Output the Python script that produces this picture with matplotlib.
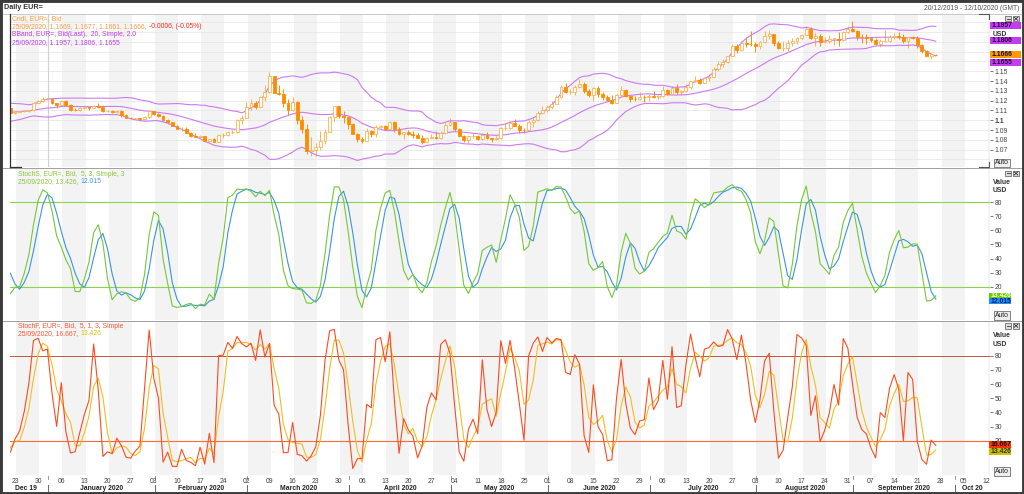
import numpy as np
import pandas as pd
import matplotlib
matplotlib.use("Agg")
import matplotlib.pyplot as plt
from matplotlib.patches import Rectangle
from matplotlib.lines import Line2D

plt.rcParams['font.family'] = ['Liberation Sans', 'DejaVu Sans']

# EUR= daily bid, 22/11/2019 - 25/09/2020 (first 20 rows only warm up the indicators)
closes = [
    1.1023,
    1.1013, 1.1017, 1.1009, 1.1010, 1.1018,  # Nov 25
    1.1078, 1.1081, 1.1078, 1.1105, 1.1059,  # Dec 2
    1.1065, 1.1091, 1.1130, 1.1130, 1.1120,  # Dec 9
    1.1145, 1.1150, 1.1112, 1.1122, 1.1079,  # Dec 16
    1.1089, 1.1090, 1.1090, 1.1100, 1.1177,  # Dec 23
    1.1200, 1.1213, 1.1215, 1.1172, 1.1160,  # Dec 30
    1.1195, 1.1152, 1.1107, 1.1106, 1.1120,  # Jan 6
    1.1134, 1.1127, 1.1150, 1.1136, 1.1091,  # Jan 13
    1.1094, 1.1083, 1.1094, 1.1054, 1.1026,  # Jan 20
    1.1019, 1.1021, 1.1010, 1.1031, 1.1094,  # Jan 27
    1.1060, 1.1045, 1.1000, 1.0980, 1.0944,  # Feb 3
    1.0910, 1.0914, 1.0874, 1.0840, 1.0830,  # Feb 10
    1.0837, 1.0790, 1.0805, 1.0782, 1.0846,  # Feb 17
    1.0852, 1.0880, 1.0882, 1.0999, 1.1026,  # Feb 24
    1.1138, 1.1174, 1.1135, 1.1238, 1.1285,  # Mar 2
    1.1450, 1.1283, 1.1266, 1.1181, 1.1106,  # Mar 9
    1.1185, 1.1001, 1.0915, 1.0688, 1.0692,  # Mar 16
    1.0724, 1.0790, 1.0883, 1.1030, 1.1141,  # Mar 23
    1.1044, 1.1032, 1.0963, 1.0857, 1.0806,  # Mar 30
    1.0793, 1.0891, 1.0856, 1.0936, 1.0939,  # Apr 6
    1.0913, 1.0985, 1.0907, 1.0862, 1.0876,  # Apr 13
    1.0862, 1.0854, 1.0822, 1.0781, 1.0821,  # Apr 20
    1.0828, 1.0822, 1.0874, 1.0955, 1.0981,  # Apr 27
    1.0906, 1.0838, 1.0795, 1.0837, 1.0842,  # May 4
    1.0806, 1.0850, 1.0816, 1.0808, 1.0819,  # May 11
    1.0920, 1.0925, 1.0974, 1.0946, 1.0901,  # May 18
    1.0898, 1.0980, 1.1006, 1.1078, 1.1100,  # May 25
    1.1136, 1.1169, 1.1236, 1.1336, 1.1290,  # Jun 1
    1.1293, 1.1341, 1.1370, 1.1298, 1.1256,  # Jun 8
    1.1330, 1.1263, 1.1242, 1.1204, 1.1180,  # Jun 15
    1.1259, 1.1308, 1.1252, 1.1220, 1.1218,  # Jun 22
    1.1242, 1.1234, 1.1252, 1.1238, 1.1245,  # Jun 29
    1.1310, 1.1272, 1.1334, 1.1286, 1.1299,  # Jul 6
    1.1343, 1.1398, 1.1411, 1.1384, 1.1428,  # Jul 13
    1.1446, 1.1528, 1.1570, 1.1595, 1.1656,  # Jul 20
    1.1753, 1.1717, 1.1791, 1.1779, 1.1778,  # Jul 27
    1.1762, 1.1800, 1.1863, 1.1876, 1.1786,  # Aug 3
    1.1737, 1.1738, 1.1785, 1.1812, 1.1842,  # Aug 10
    1.1869, 1.1934, 1.1838, 1.1864, 1.1795,  # Aug 17
    1.1812, 1.1832, 1.1834, 1.1820, 1.1903,  # Aug 24
    1.1936, 1.1912, 1.1853, 1.1851, 1.1838,  # Aug 31
    1.1815, 1.1778, 1.1805, 1.1812, 1.1846,  # Sep 7
    1.1862, 1.1845, 1.1813, 1.1848, 1.1840,  # Sep 14
    1.1768, 1.1703, 1.1660, 1.1675, 1.1666,  # Sep 21
]
highs = [
    1.1090,
    1.1033, 1.1025, 1.1025, 1.1020, 1.1035,
    1.1090, 1.1093, 1.1095, 1.1115, 1.1111,
    1.1090, 1.1096, 1.1145, 1.1140, 1.1200,
    1.1160, 1.1175, 1.1155, 1.1125, 1.1122,
    1.1095, 1.1094, 1.1093, 1.1107, 1.1188,
    1.1210, 1.1239, 1.1225, 1.1225, 1.1175,
    1.1206, 1.1204, 1.1166, 1.1125, 1.1131,
    1.1141, 1.1146, 1.1158, 1.1173, 1.1145,
    1.1100, 1.1103, 1.1103, 1.1103, 1.1060,
    1.1036, 1.1027, 1.1026, 1.1039, 1.1096,
    1.1098, 1.1070, 1.1050, 1.1012, 1.0980,
    1.0955, 1.0930, 1.0928, 1.0885, 1.0865,
    1.0850, 1.0841, 1.0812, 1.0815, 1.0863,
    1.0870, 1.0892, 1.0900, 1.1014, 1.1053,
    1.1186, 1.1214, 1.1200, 1.1243, 1.1355,
    1.1495, 1.1450, 1.1355, 1.1317, 1.1214,
    1.1240, 1.1195, 1.1043, 1.0958, 1.0830,
    1.0765, 1.0889, 1.0908, 1.1040, 1.1148,
    1.1147, 1.1090, 1.1036, 1.0970, 1.0865,
    1.0834, 1.0926, 1.0897, 1.0952, 1.0950,
    1.0954, 1.0990, 1.0990, 1.0927, 1.0880,
    1.0904, 1.0889, 1.0875, 1.0845, 1.0829,
    1.0863, 1.0890, 1.0889, 1.0973, 1.1019,
    1.0982, 1.0926, 1.0850, 1.0843, 1.0875,
    1.0852, 1.0874, 1.0885, 1.0821, 1.0838,
    1.0935, 1.0976, 1.0994, 1.1008, 1.0958,
    1.0925, 1.1000, 1.1023, 1.1093, 1.1147,
    1.1155, 1.1198, 1.1257, 1.1362, 1.1384,
    1.1322, 1.1362, 1.1422, 1.1388, 1.1320,
    1.1339, 1.1350, 1.1288, 1.1262, 1.1256,
    1.1279, 1.1349, 1.1322, 1.1260, 1.1248,
    1.1288, 1.1260, 1.1269, 1.1303, 1.1258,
    1.1346, 1.1318, 1.1352, 1.1372, 1.1310,
    1.1375, 1.1405, 1.1453, 1.1433, 1.1440,
    1.1467, 1.1546, 1.1601, 1.1626, 1.1660,
    1.1781, 1.1780, 1.1805, 1.1845, 1.1909,
    1.1803, 1.1810, 1.1915, 1.1916, 1.1885,
    1.1808, 1.1806, 1.1815, 1.1842, 1.1849,
    1.1882, 1.1966, 1.1950, 1.1888, 1.1883,
    1.1850, 1.1867, 1.1849, 1.1900, 1.1915,
    1.1966, 1.2011, 1.1918, 1.1876, 1.1885,
    1.1846, 1.1839, 1.1830, 1.1917, 1.1872,
    1.1887, 1.1900, 1.1883, 1.1850, 1.1860,
    1.1861, 1.1778, 1.1718, 1.1688, 1.1677,
]
lows = [
    1.1015,
    1.1004, 1.0995, 1.0995, 1.1002, 1.0981,
    1.1015, 1.1068, 1.1067, 1.1072, 1.1040,
    1.1055, 1.1060, 1.1075, 1.1105, 1.1105,
    1.1110, 1.1135, 1.1105, 1.1095, 1.1066,
    1.1068, 1.1080, 1.1085, 1.1082, 1.1095,
    1.1170, 1.1191, 1.1208, 1.1164, 1.1126,
    1.1147, 1.1141, 1.1092, 1.1094, 1.1090,
    1.1110, 1.1105, 1.1124, 1.1130, 1.1083,
    1.1083, 1.1072, 1.1077, 1.1036, 1.1019,
    1.1012, 1.1009, 1.0992, 1.1004, 1.1018,
    1.1055, 1.1035, 1.0995, 1.0964, 1.0941,
    1.0907, 1.0892, 1.0865, 1.0833, 1.0827,
    1.0820, 1.0785, 1.0778, 1.0778, 1.0780,
    1.0818, 1.0838, 1.0855, 1.0875, 1.0960,
    1.1020, 1.1100, 1.1110, 1.1120, 1.1198,
    1.1280, 1.1274, 1.1255, 1.1140, 1.1055,
    1.1090, 1.0960, 1.0873, 1.0655, 1.0636,
    1.0638, 1.0700, 1.0760, 1.0880, 1.0990,
    1.1025, 1.0970, 1.0906, 1.0856, 1.0779,
    1.0769, 1.0785, 1.0830, 1.0830, 1.0920,
    1.0902, 1.0905, 1.0880, 1.0846, 1.0813,
    1.0850, 1.0816, 1.0815, 1.0757, 1.0767,
    1.0810, 1.0812, 1.0813, 1.0857, 1.0937,
    1.0888, 1.0829, 1.0782, 1.0766, 1.0817,
    1.0794, 1.0797, 1.0808, 1.0775, 1.0796,
    1.0809, 1.0898, 1.0914, 1.0943, 1.0870,
    1.0870, 1.0890, 1.0935, 1.0990, 1.1061,
    1.1088, 1.1110, 1.1161, 1.1222, 1.1275,
    1.1266, 1.1260, 1.1327, 1.1282, 1.1234,
    1.1195, 1.1240, 1.1210, 1.1196, 1.1168,
    1.1176, 1.1243, 1.1241, 1.1187, 1.1199,
    1.1205, 1.1191, 1.1200, 1.1226, 1.1220,
    1.1240, 1.1262, 1.1265, 1.1272, 1.1255,
    1.1290, 1.1320, 1.1390, 1.1371, 1.1382,
    1.1400, 1.1437, 1.1500, 1.1548, 1.1589,
    1.1654, 1.1690, 1.1710, 1.1752, 1.1760,
    1.1696, 1.1728, 1.1788, 1.1834, 1.1754,
    1.1722, 1.1711, 1.1710, 1.1760, 1.1780,
    1.1820, 1.1865, 1.1826, 1.1755, 1.1754,
    1.1784, 1.1786, 1.1772, 1.1762, 1.1812,
    1.1893, 1.1902, 1.1814, 1.1789, 1.1781,
    1.1803, 1.1766, 1.1752, 1.1800, 1.1797,
    1.1832, 1.1825, 1.1787, 1.1737, 1.1825,
    1.1736, 1.1690, 1.1653, 1.1627, 1.1661,
]
last_open = 1.1669  # 25/09 open, from the legend

# labels above 1.15 sit behind the value boxes in the original, so only these show
price_ticks = [1.07, 1.08, 1.09, 1.10, 1.11, 1.12, 1.13, 1.14, 1.15]
price_tick_labels = ["1.07", "1.08", "1.09", "1.1", "1.11", "1.12", "1.13", "1.14", "1.15"]
grid_levels = [1.06, 1.07, 1.08, 1.09, 1.10, 1.11, 1.12, 1.13, 1.14, 1.15, 1.16, 1.17, 1.18, 1.19, 1.20]
stoch_ticks = [20, 30, 40, 50, 60, 70, 80]
week_labels = ["23", "30", "06", "13", "20", "27", "03", "10", "17", "24", "02", "09", "16", "23",
               "30", "06", "13", "20", "27", "04", "11", "18", "25", "01", "08", "15", "22", "29",
               "06", "13", "20", "27", "03", "10", "17", "24", "31", "07", "14", "21", "28", "05", "12"]
month_labels = ["Dec 19", "January 2020", "February 2020", "March 2020", "April 2020", "May 2020",
                "June 2020", "July 2020", "August 2020", "September 2020", "Oct 20"]

# ---- indicators
dates = pd.bdate_range("2019-11-22", "2020-09-25")
df = pd.DataFrame({"c": closes, "h": highs, "l": lows}, index=dates)
df["o"] = df["c"].shift(1)
df.iloc[-1, df.columns.get_loc("o")] = last_open
mid = df["c"].rolling(20).mean()
sd = df["c"].rolling(20).std(ddof=0)
df["bb_up"], df["bb_mid"], df["bb_lo"] = mid + 2 * sd, mid, mid - 2 * sd
hh = df["h"].rolling(5).max()
ll = df["l"].rolling(5).min()
df["fk"] = 100 * (df["c"] - ll) / (hh - ll)
df["sk"] = df["fk"].rolling(3).mean()
df["sd"] = df["sk"].rolling(3).mean()

d = df.loc["2019-12-20":]
t = np.arange(len(d)) - 1  # Monday 23/12/2019 = 0

# ---- figure
W, H = 1024, 494
fig = plt.figure(figsize=(W / 100, H / 100), dpi=100)
FS = 4.9


def px_axes(x0, y0, x1, y1):
    return fig.add_axes([x0 / W, 1 - y1 / H, (x1 - x0) / W, (y1 - y0) / H])


def fx(x):
    return x / W


def fy(y):
    return 1 - y / H


PPD = 4.627
X0, X1 = (10 - 15) / PPD, (990 - 15) / PPD

ax1 = px_axes(10, 15, 990, 167)
ax2 = px_axes(10, 169, 990, 320)
ax3 = px_axes(10, 322, 990, 475)
ax1.set_ylim(1.0523, 1.2074)
ax2.set_ylim(-3.7, 103.7)
ax3.set_ylim(-4.2, 103.8)

for ax in (ax1, ax2, ax3):
    ax.set_xlim(X0, X1)
    for s in ax.spines.values():
        s.set_visible(False)
    ax.set_xticks([])
    ax.yaxis.tick_right()
    ax.tick_params(axis="y", length=2.5, width=0.5, colors="#444", labelsize=FS, pad=1)
    for k in range(0, 44, 2):
        ax.axvspan(5 * k + 0.25, 5 * k + 5.25, color="#f3f3f3", lw=0, zorder=0)

ax1.set_yticks(price_ticks)
ax1.set_yticklabels(price_tick_labels)
for lab in ax1.get_yticklabels():
    if lab.get_text() == "1.1":
        lab.set_fontweight("bold")
for y in grid_levels:
    ax1.axhline(y, color="#e4e4e4", lw=0.5, zorder=0.5)
ax1.axvline(7.2, color="#d0d0d0", lw=0.8, zorder=0.5)
for ax in (ax2, ax3):
    ax.set_yticks(stoch_ticks)

# candles
o, c, h, l = d["o"].values, d["c"].values, d["h"].values, d["l"].values
up = c >= o
col_up, col_dn = "#FFB24D", "#FF8C00"
wick_cols = [col_up if u else col_dn for u in up]
ax1.vlines(t, l, h, colors=wick_cols, lw=0.7, zorder=2)
body = np.maximum(np.abs(c - o), 0.00025)
ax1.bar(t[up], body[up], bottom=np.minimum(o, c)[up], width=0.62,
        facecolor="white", edgecolor=col_up, lw=0.6, zorder=3)
ax1.bar(t[~up], body[~up], bottom=np.minimum(o, c)[~up], width=0.62,
        facecolor=col_dn, edgecolor=col_dn, lw=0.6, zorder=3)

bb_col = "#CC7AF0"
for key in ("bb_up", "bb_mid", "bb_lo"):
    ax1.plot(t, d[key].values, color=bb_col, lw=0.8, zorder=2.5)

# StochS
ax2.axhline(80, color="#88D44A", lw=0.8, zorder=1)
ax2.axhline(20, color="#88D44A", lw=0.8, zorder=1)
ax2.plot(t, d["sd"].values, color="#3A95E4", lw=0.8, zorder=2)
ax2.plot(t, d["sk"].values, color="#74C83A", lw=0.8, zorder=3)

# StochF
ax3.axhline(80, color="#C0583C", lw=0.7, zorder=1)
ax3.axhline(20, color="#FF6A3D", lw=0.8, zorder=1)
ax3.plot(t, d["sk"].values, color="#F2BE1E", lw=0.8, zorder=2)
ax3.plot(t, d["fk"].values, color="#FF4B1E", lw=0.8, zorder=3)

# ---- x axis labels
axl = px_axes(10, 475, 990, 492)
axl.set_xlim(X0, X1)
axl.set_ylim(0, 17)
axl.axis("off")
ext = pd.bdate_range("2019-12-20", "2020-10-16")
tt = np.arange(len(ext)) - 1
mondays = tt[(ext.dayofweek == 0)][: len(week_labels)]
for x, s in zip(mondays, week_labels):
    axl.text(x, 11, s, ha="center", va="center", fontsize=FS, color="#444")
starts = [tt[i] + 0.2 for i in range(1, len(ext)) if ext[i].month != ext[i - 1].month]
bounds = [X0 - 1.2] + starts + [X1]
for i, s in enumerate(month_labels):
    axl.text((bounds[i] + bounds[i + 1]) / 2, 3.5, s, ha="center", va="center",
             fontsize=FS, fontweight="bold", color="#222")
for x in starts:
    axl.plot([x, x], [0.3, 7], color="#666", lw=0.7)
    axl.plot([x, x], [13.5, 16], color="#888", lw=0.6)

# ---- legends
renderer = fig.canvas.get_renderer()


def ctext(x, y, parts, **kw):
    for s, colr in parts:
        tx = fig.text(fx(x), fy(y), s, color=colr, fontsize=FS, va="center", ha="left", **kw)
        x += tx.get_window_extent(renderer).width + 2.2


orange, red, violet = "#FF9A3C", "#FF2A1A", "#C23CF0"
ctext(12, 19, [("Cndl, EUR=, Bid", orange)])
ctext(12, 26.7, [("25/09/2020, 1.1669, 1.1677, 1.1661, 1.1666,", orange), ("-0.0006, (-0.05%)", red)])
ctext(12, 34.3, [("BBand, EUR=, Bid(Last),  20, Simple, 2.0", violet)])
ctext(12, 43, [("25/09/2020, 1.1957, 1.1806, 1.1655", violet)])
green, blue = "#8CC63A", "#3A9AF0"
ctext(18, 174.5, [("StochS, EUR=, Bid,  5, 3, Simple, 3", green)])
ctext(18, 181.5, [("25/09/2020, 13.426,", green), ("12.015", blue)])
red2, yellow = "#FF5533", "#D8C400"
ctext(18, 326.7, [("StochF, EUR=, Bid,  5, 1, 3, Simple", red2)])
ctext(18, 333.2, [("25/09/2020, 16.667,", red2), ("13.426", yellow)])

# right side labels ("Value" of the price panel is hidden by the boxes)
fig.text(fx(993), fy(34.3), "USD", fontsize=FS, fontweight="bold", color="#333", va="center")
for yv, yu in ((182.3, 190.7), (335, 344)):
    fig.text(fx(993), fy(yv), "Value", fontsize=FS, fontweight="bold", color="#333", va="center")
    fig.text(fx(993), fy(yu), "USD", fontsize=FS, fontweight="bold", color="#333", va="center")


def vbox(x0, x1, yc, text, fc, tc, h=6.8):
    fig.patches.append(Rectangle((fx(x0), fy(yc + h / 2)), (x1 - x0) / W, h / H,
                                 transform=fig.transFigure, facecolor=fc, edgecolor="none", zorder=5))
    fig.text(fx(x0 + 1.5), fy(yc), text, color=tc, fontsize=FS, fontweight="bold",
             va="center", ha="left", zorder=6)


vbox(990, 1021, 25.3, "1.1957", "#C23CF0", "#2a0040")
vbox(990, 1021, 40.8, "1.1806", "#C23CF0", "#2a0040")
vbox(990, 1021, 54.3, "1.1666", "#FF9900", "#111")
vbox(990, 1021, 62.3, "1.1655", "#C23CF0", "#2a0040")
vbox(989, 1011, 295.5, "13.426", "#66CC00", "white", h=5.8)
vbox(989, 1011, 301.2, "12.015", "#1E90FF", "#002060", h=5.8)
vbox(989, 1011, 444.6, "16.667", "#FF3300", "#111", h=6.6)
vbox(989, 1011, 451.4, "13.426", "#CCC000", "#333", h=6.6)

for ya in (163, 315.5, 471.5):
    fig.text(fx(995), fy(ya), "Auto", fontsize=FS, color="#222", va="center", zorder=6,
             bbox=dict(boxstyle="square,pad=0.12", fc="#eeeeee", ec="#555", lw=0.5))
for yi in (16, 170.7, 323):
    for xi in (1005, 1013):
        fig.patches.append(Rectangle((fx(xi), fy(yi + 5.5)), 6 / W, 5.5 / H, transform=fig.transFigure,
                                     facecolor="#dddddd", edgecolor="#555", lw=0.5, zorder=6))
    fig.lines.append(Line2D([fx(1006.5), fx(1009.5)], [fy(yi + 2.75)] * 2, transform=fig.transFigure,
                            color="#333", lw=0.6, zorder=7))
    fig.lines.append(Line2D([fx(1014.2), fx(1017.8)], [fy(yi + 1.2), fy(yi + 4.3)],
                            transform=fig.transFigure, color="#333", lw=0.6, zorder=7))
    fig.lines.append(Line2D([fx(1014.2), fx(1017.8)], [fy(yi + 4.3), fy(yi + 1.2)],
                            transform=fig.transFigure, color="#333", lw=0.6, zorder=7))

# frame, title bar, panel separators
fig.text(fx(4), fy(7.3), "Daily EUR=", fontsize=5.2, fontweight="bold", color="#333", va="center")
fig.text(fx(1019), fy(8.3), "20/12/2019 - 12/10/2020 (GMT)", fontsize=FS, color="#555",
         va="center", ha="right")


def fline(xs, ys, colr, lw):
    fig.lines.append(Line2D([fx(v) for v in xs], [fy(v) for v in ys], transform=fig.transFigure,
                            color=colr, lw=lw, zorder=4))


fline([3, 1021], [14, 14], "#c8c8c8", 0.7)
fline([3, 1021], [168, 168], "#a0a0a0", 0.7)
fline([3, 1021], [321, 321], "#a0a0a0", 0.7)
fline([10, 10], [14, 167], "#333", 0.9)
fline([10, 21], [167, 167], "#333", 0.9)
fline([979, 989, 989], [14, 14, 19], "#555", 0.8)
fline([979, 989, 989], [167, 167, 162], "#555", 0.8)
fig.patches.append(Rectangle((0, 0), 1, 1, transform=fig.transFigure, fill=False,
                             edgecolor="#3a3a3a", lw=3.5, zorder=8))

fig.savefig("out.png", dpi=100)
